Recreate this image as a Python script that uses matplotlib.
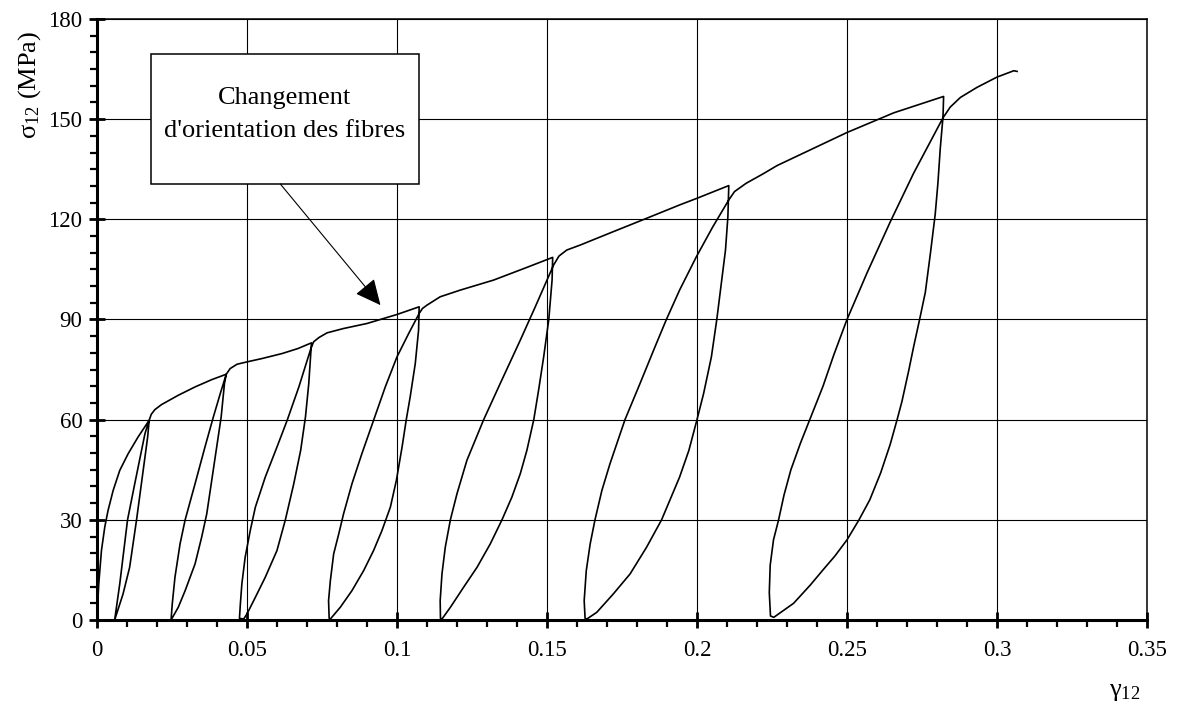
import numpy as np
import matplotlib
matplotlib.use("Agg")
import matplotlib.pyplot as plt
import matplotlib.patches as patches

plt.rcParams['font.family'] = ['Liberation Serif', 'DejaVu Serif']
plt.rcParams['mathtext.fontset'] = 'custom'
plt.rcParams['mathtext.rm'] = 'Liberation Serif'
plt.rcParams['mathtext.it'] = 'Liberation Serif:italic'

# shear strain gamma_12 / shear stress sigma_12 (MPa)
# first loading up to the first unloading point
load0_g = [0, 0.0002, 0.0006, 0.0015, 0.0026, 0.0037, 0.0054, 0.0076, 0.0104, 0.0137, 0.0174]
load0_s = [0, 4, 10.8, 20.8, 27.8, 32.8, 38.8, 44.8, 49.8, 54.8, 59.8]

# unloading branches (peak -> residual strain)
unload_g = [
    [0.0174, 0.0169, 0.0148, 0.0132, 0.0109, 0.0087, 0.0059],
    [0.0431, 0.0425, 0.0414, 0.0394, 0.0366, 0.0349, 0.0327, 0.0294, 0.0271, 0.0247],
    [0.0715, 0.0706, 0.0695, 0.0679, 0.0656, 0.0628, 0.0600, 0.0561, 0.0528, 0.0500, 0.0489],
    [0.1074, 0.1072, 0.1061, 0.1044, 0.1031, 0.1017, 0.0998, 0.0978, 0.0950, 0.0922,
     0.0889, 0.0850, 0.0811, 0.0778],
    [0.1519, 0.1517, 0.1506, 0.1489, 0.1472, 0.1456, 0.1433, 0.1411, 0.1383, 0.1350,
     0.1311, 0.1267, 0.1222, 0.1178, 0.1150],
    [0.2106, 0.2103, 0.2095, 0.2081, 0.2066, 0.2048, 0.2022, 0.2000, 0.1973, 0.1942,
     0.1909, 0.1882, 0.1832, 0.1777, 0.1721, 0.1666, 0.1633],
    [0.2822, 0.2820, 0.2811, 0.2803, 0.2794, 0.2778, 0.2761, 0.2742, 0.2722, 0.2706,
     0.2683, 0.2667, 0.2644, 0.2612, 0.2576, 0.2540, 0.2500, 0.2460, 0.2420,
     0.2378, 0.2322, 0.2256],
]
unload_s = [
    [59.8, 54.8, 40.8, 30, 15.8, 7.8, 0],
    [73.6, 70.8, 60.8, 48.8, 31.8, 24.8, 16.8, 8.8, 3.8, 0],
    [83.0, 70.8, 60.8, 50.8, 40.8, 30, 20.8, 12.8, 6.8, 1.8, 0.3],
    [93.8, 86.8, 76.8, 66.8, 60, 51.8, 41.8, 33.8, 26.8, 20.8, 14.8, 8.8, 3.8, 0.3],
    [108.6, 101.8, 90, 78.8, 68.8, 60, 50.8, 43.8, 36.8, 30, 22.8, 15.8, 9.8, 3.8, 0.3],
    [130.1, 120.8, 110.8, 100.8, 90, 78.8, 67.8, 60, 50.8, 42.8, 35.8, 30, 21.8, 13.8,
     7.8, 2.3, 0.3],
    [156.8, 150.7, 141.4, 130.8, 121.5, 109.8, 98.1, 90, 81.8, 74.8, 65.4, 60, 52.6,
     44.0, 36.0, 30, 24.0, 19.2, 15.0, 10.5, 5.0, 0.8],
]

# reloading branches (residual strain -> back on the envelope)
reload_g = [
    [0.0059, 0.0076, 0.0102, 0.0126, 0.0160, 0.0174],
    [0.0247, 0.0251, 0.0260, 0.0277, 0.0294, 0.0327, 0.0360, 0.0388, 0.0411, 0.0431],
    [0.0475, 0.0478, 0.0483, 0.0494, 0.0511, 0.0528, 0.0561, 0.0600, 0.0634, 0.0673, 0.0712],
    [0.0774, 0.0772, 0.0778, 0.0789, 0.0806, 0.0822, 0.0850, 0.0883, 0.0922, 0.0961,
     0.1000, 0.1039, 0.1074],
    [0.1145, 0.1144, 0.1150, 0.1161, 0.1178, 0.1200, 0.1233, 0.1289, 0.1344, 0.1411,
     0.1461, 0.1500, 0.1522],
    [0.1627, 0.1624, 0.1631, 0.1644, 0.1660, 0.1683, 0.1710, 0.1760, 0.1810, 0.1860,
     0.1898, 0.1942, 0.1998, 0.2053, 0.2106, 0.2125],
    [0.2245, 0.2241, 0.2244, 0.2255, 0.2272, 0.2290, 0.2313, 0.2345, 0.2376, 0.2420,
     0.2456, 0.2500, 0.2567, 0.2644, 0.2722, 0.2820],
]
reload_s = [
    [0, 10.8, 30, 40.8, 55.8, 59.8],
    [0, 4.8, 12.8, 22.8, 30, 40.8, 51.8, 60.8, 67.8, 73.6],
    [0.5, 4.8, 10.8, 18.8, 26.8, 33.8, 42.8, 51.8, 59.8, 69.8, 81.0],
    [0.5, 5.8, 11.8, 19.8, 25.8, 31.8, 40.8, 49.8, 59.8, 69.8, 78.8, 85.8, 91.8],
    [0.5, 5.8, 13.8, 21.8, 30, 37.8, 47.8, 60, 70.8, 83.8, 93.8, 101.8, 106.3],
    [0.5, 5.8, 14.8, 22.8, 30, 38.8, 46.8, 60, 70.8, 81.8, 90, 98.8, 108.8, 117.8,
     125.8, 128.3],
    [1.2, 8.2, 16.4, 24, 30, 37.4, 45, 53, 60, 70, 79.4, 90, 104, 119.2, 133.8, 150.4],
]

# envelope pieces between one reload and the next unloading point
env_g = [
    [0.0174, 0.0181, 0.0193, 0.0215, 0.0271, 0.0327, 0.0383, 0.0431],
    [0.0431, 0.0444, 0.0467, 0.0500, 0.0550, 0.0617, 0.0670, 0.0715],
    [0.0712, 0.0722, 0.0740, 0.0767, 0.0822, 0.0900, 0.1000, 0.1074],
    [0.1074, 0.1085, 0.1100, 0.1144, 0.1211, 0.1322, 0.1433, 0.1519],
    [0.1522, 0.1540, 0.1566, 0.1611, 0.1721, 0.1832, 0.1942, 0.2000, 0.2106],
    [0.2125, 0.2164, 0.2220, 0.2267, 0.2378, 0.2500, 0.2656, 0.2822],
    [0.2820, 0.2844, 0.2878, 0.2933, 0.3000, 0.3056, 0.3067],
]
env_s = [
    [59.8, 61.6, 63.0, 64.5, 67.3, 69.8, 72.0, 73.6],
    [73.6, 75.3, 76.6, 77.3, 78.3, 79.8, 81.3, 83.0],
    [81.0, 83.3, 84.6, 86.0, 87.3, 88.8, 91.5, 93.8],
    [91.8, 93.3, 94.3, 96.8, 98.8, 101.8, 105.6, 108.6],
    [106.3, 109.0, 110.8, 112.3, 116.3, 120.3, 124.3, 126.3, 130.1],
    [128.3, 130.8, 133.6, 136.1, 140.8, 146, 151.9, 156.8],
    [150.4, 153.6, 156.5, 159.5, 162.6, 164.5, 164.3],
]

xticks = [0, 0.05, 0.1, 0.15, 0.2, 0.25, 0.3, 0.35]
xticklabels = ['0', '0.05', '0.1', '0.15', '0.2', '0.25', '0.3', '0.35']
yticks = [0, 30, 60, 90, 120, 150, 180]
yticklabels = ['0', '30', '60', '90', '120', '150', '180']

# chain the pieces in test order: load, then for each cycle unload / reload / envelope
g = list(load0_g)
s = list(load0_s)
for k in range(len(unload_g)):
    g += unload_g[k] + reload_g[k] + env_g[k]
    s += unload_s[k] + reload_s[k] + env_s[k]

fig = plt.figure(figsize=(11.78, 7.08), dpi=100)
ax = fig.add_axes([0.0823, 0.1243, 0.8914, 0.8489])

ax.plot(g, s, color='black', lw=1.2, zorder=2, solid_joinstyle='round')

ax.set_xlim(0, 0.35)
ax.set_ylim(0, 180)
ax.set_xticks(xticks)
ax.set_xticklabels(xticklabels)
ax.set_yticks(yticks)
ax.set_yticklabels(yticklabels)
ax.set_xticks(np.arange(0, 0.351, 0.01), minor=True)
ax.set_yticks(np.arange(0, 181, 5), minor=True)
ax.tick_params(which='major', direction='inout', length=11, width=2, labelsize=16.5)
ax.tick_params(axis='x', which='major', pad=9)
ax.tick_params(axis='y', which='major', pad=5)
ax.tick_params(which='minor', direction='out', length=5, width=1.6)
ax.grid(True, which='major', color='black', lw=0.8)
ax.set_axisbelow(True)

for side in ['left', 'bottom']:
    ax.spines[side].set_linewidth(2.2)
for side in ['top', 'right']:
    ax.spines[side].set_linewidth(1.1)

fig.text(30 / 1178, 1 - 85 / 708, 'σ$_{12}$ (MPa)', rotation=90,
         ha='center', va='center', fontsize=19)
fig.text(1125 / 1178, 1 - 692 / 708, 'γ$_{12}$', ha='center', va='center', fontsize=19)

# annotation box with arrow
box = patches.Rectangle((0.0511, 0.7255), 0.2553, 0.2163, transform=ax.transAxes,
                        facecolor='white', edgecolor='black', lw=1.1, zorder=4)
ax.add_patch(box)
ax.text(0.179, 0.858, 'Changement', transform=ax.transAxes, ha='center',
        va='baseline', fontsize=19, zorder=5)
ax.text(0.179, 0.804, "d'orientation des fibres", transform=ax.transAxes, ha='center',
        va='baseline', fontsize=19, zorder=5)
ax.annotate('', xy=(0.0945, 94.3), xytext=(0.0611, 130.6),
            arrowprops=dict(arrowstyle='-|>,head_length=0.8,head_width=0.38',
                            mutation_scale=20, lw=0.8, color='black',
                            shrinkA=0, shrinkB=0),
            zorder=5)

fig.savefig('out.png', dpi=100)
